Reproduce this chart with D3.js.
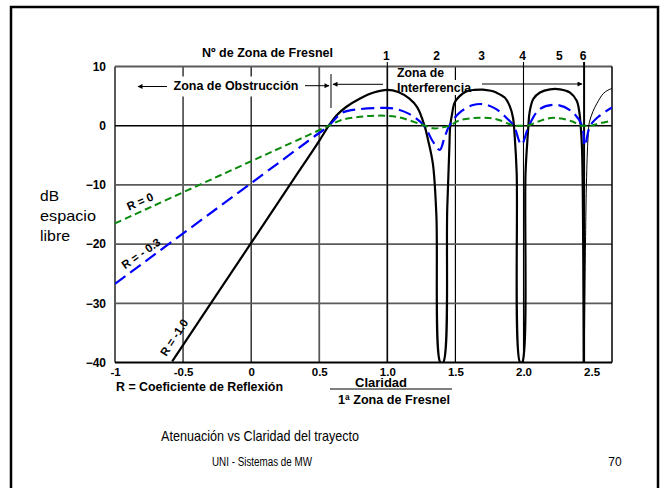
<!DOCTYPE html>
<html>
<head>
<meta charset="utf-8">
<script src="https://cdn.jsdelivr.net/npm/d3@7"></script>
<style>
  body { margin: 0; background: #fff; }
  svg text { font-family: "Liberation Sans", Arial, sans-serif; fill: #000; }
</style>
</head>
<body>
<svg width="666" height="488"></svg>
<script>
// Axis ticks
const xTicks = [-1, -0.5, 0, 0.5, 1, 1.5, 2, 2.5];
const xTickLabels = ["-1", "-0.5", "0", "0.5", "1.0", "1.5", "2.0", "2.5"];
const yTicks = [10, 0, -10, -20, -30, -40];

// Fresnel zone numbers and where they sit on the clearance axis
const zoneLabels = ["1", "2", "3", "4", "5", "6"];
const zonePos = [1.0, 1.37, 1.70, 2.0, 2.27, 2.445];

// R = 0 (green)
const r0 = [[-1, -16.5], [0, -6.0], [0.3, -2.85], [0.45, -1.28], [0.57, 0], [0.67, 1.0],
  [0.8, 1.5], [0.92, 1.7], [1.07, 1.5], [1.24, 0.3], [1.34, -0.45], [1.40, -0.3],
  [1.458, 0], [1.531, 0.9], [1.678, 1.35], [1.80, 1.1], [1.90, 0.25], [1.93, 0],
  [1.98, 0], [2.03, 0], [2.12, 0.8], [2.20, 1.3], [2.28, 1.2], [2.36, 0.7],
  [2.42, 0], [2.45, 0], [2.49, 0], [2.56, 0.4], [2.65, 0.85]];

// R = -0.3 (blue)
const r03 = [[-1, -26.7], [0, -9.7], [0.3, -4.6], [0.45, -2.05], [0.57, 0], [0.67, 2.2],
  [0.8, 2.8], [0.95, 3.0], [1.05, 2.9], [1.16, 2.0], [1.27, 0], [1.33, -2.5],
  [1.385, -4.1], [1.42, -2], [1.455, 0], [1.531, 2.2], [1.63, 3.5], [1.715, 3.6],
  [1.80, 2.8], [1.874, 1.35], [1.928, 0], [1.985, -3.2], [2.04, 0], [2.12, 2.8],
  [2.25, 3.5], [2.36, 2.3], [2.43, 0], [2.45, -3.4], [2.49, 0], [2.56, 1.7], [2.65, 3.1]];

// R = -1.0 (black), up to the third null
const r10 = [[-0.58, -39.8], [0, -19.8], [0.3, -9.45], [0.5, -2.55], [0.57, 0], [0.63, 1.8],
  [0.7, 3.2], [0.8, 4.6], [0.9, 5.6], [1.0, 6.05], [1.08, 5.7], [1.16, 4.6], [1.22, 3.1],
  [1.273, 0], [1.30, -2.5], [1.335, -6.5], [1.36, -15], [1.39, -40], [1.41, -40],
  [1.44, -14], [1.455, -4], [1.462, 0], [1.475, 1.9], [1.494, 3.9], [1.531, 5.0],
  [1.58, 5.8], [1.64, 6.05], [1.70, 6.1], [1.76, 5.9], [1.80, 5.6], [1.862, 4.75],
  [1.899, 3.3], [1.923, 1.35], [1.936, -2], [1.95, -8], [1.975, -40], [1.99, -40],
  [2.015, -8], [2.03, -2], [2.036, 0], [2.045, 2.3], [2.072, 4.5], [2.121, 5.6],
  [2.195, 6.15], [2.268, 6.15], [2.342, 5.6], [2.391, 4.2], [2.41, 2.3], [2.42, 0],
  [2.43, -4], [2.442, -40]];

// R = -1.0 after the sixth zone (thin)
const r10tail = [[2.446, -40], [2.462, -10], [2.474, -2], [2.483, 0.5], [2.51, 2.4],
  [2.54, 3.8], [2.585, 5.4], [2.62, 6.0], [2.65, 6.3]];

const svg = d3.select("svg");
const font = '"Liberation Sans", Arial, sans-serif';

const x = d3.scaleLinear().domain([-1, 2.65]).range([115, 612]);
const y = d3.scaleLinear().domain([-40, 10]).range([362.5, 66.5]);

// slide frame
svg.append("rect")
  .attr("x", 11).attr("y", 7).attr("width", 647).attr("height", 520)
  .attr("fill", "none").attr("stroke", "#000").attr("stroke-width", 2.5);

// grid
const darkX = [0, 1.5, 2];
svg.append("g").selectAll("line")
  .data([-0.5, 0, 0.5, 1, 1.5])
  .join("line")
  .attr("x1", d => x(d)).attr("x2", d => x(d))
  .attr("y1", y(10)).attr("y2", y(-40))
  .attr("stroke", d => darkX.includes(d) ? "#000" : "#5a5a5a")
  .attr("stroke-width", d => darkX.includes(d) ? 1.2 : 1.8);

svg.append("g").selectAll("line")
  .data([10, -10, -20, -30])
  .join("line")
  .attr("x1", x(-1)).attr("x2", x(2.65))
  .attr("y1", d => y(d)).attr("y2", d => y(d))
  .attr("stroke", "#5a5a5a").attr("stroke-width", 1.8);

// left border grey, others black
svg.append("line").attr("x1", x(-1)).attr("x2", x(-1)).attr("y1", y(10)).attr("y2", y(-40))
  .attr("stroke", "#5a5a5a").attr("stroke-width", 2);
svg.append("line").attr("x1", x(2.65)).attr("x2", x(2.65)).attr("y1", y(10)).attr("y2", y(-40))
  .attr("stroke", "#000").attr("stroke-width", 1.5);
svg.append("line").attr("x1", x(-1)).attr("x2", x(2.65)).attr("y1", y(-40)).attr("y2", y(-40))
  .attr("stroke", "#000").attr("stroke-width", 2);
svg.append("line").attr("x1", x(-1)).attr("x2", x(2.65)).attr("y1", y(0)).attr("y2", y(0))
  .attr("stroke", "#000").attr("stroke-width", 1.5);

// fresnel zone markers (zones 1, 4, 6)
svg.append("g").selectAll("line")
  .data([0, 3, 5])
  .join("line")
  .attr("x1", i => x(zonePos[i])).attr("x2", i => x(zonePos[i]))
  .attr("y1", 62).attr("y2", y(-40))
  .attr("stroke", "#000")
  .attr("stroke-width", i => i === 5 ? 2 : 1.1);

// white boxes behind the zone texts
svg.append("rect").attr("x", 170).attr("y", 76.5).attr("width", 132).attr("height", 20).attr("fill", "#fff");
svg.append("rect").attr("x", 395).attr("y", 80).attr("width", 78).attr("height", 15).attr("fill", "#fff");

// curves
svg.append("clipPath").attr("id", "plot")
  .append("rect").attr("x", x(-1)).attr("y", y(10))
  .attr("width", x(2.65) - x(-1)).attr("height", y(-40) - y(10));

const line = d3.line()
  .x(d => x(d[0])).y(d => y(d[1]))
  .curve(d3.curveCatmullRom.alpha(0.5));

const curves = svg.append("g").attr("clip-path", "url(#plot)");
curves.append("path").datum(r10).attr("d", line)
  .attr("fill", "none").attr("stroke", "#000").attr("stroke-width", 2.2);
curves.append("path").datum(r10tail).attr("d", line)
  .attr("fill", "none").attr("stroke", "#000").attr("stroke-width", 1);
curves.append("path").datum(r03).attr("d", line)
  .attr("fill", "none").attr("stroke", "#0000ff").attr("stroke-width", 2.2)
  .attr("stroke-dasharray", "13,6");
curves.append("path").datum(r0).attr("d", line)
  .attr("fill", "none").attr("stroke", "#0a8a0a").attr("stroke-width", 2)
  .attr("stroke-dasharray", "7,4");

// axes
const xAxis = d3.axisBottom(x).tickValues(xTicks)
  .tickFormat((d, i) => xTickLabels[i]).tickSize(0).tickPadding(5);
svg.append("g").attr("transform", `translate(0,${y(-40)})`)
  .call(xAxis)
  .call(g => g.select(".domain").remove())
  .attr("font-family", font).attr("font-size", 11.5).attr("font-weight", "bold");

const yAxis = d3.axisLeft(y).tickValues(yTicks).tickSize(0).tickPadding(9);
svg.append("g").attr("transform", `translate(${x(-1)},0)`)
  .call(yAxis)
  .call(g => g.select(".domain").remove())
  .attr("font-family", font).attr("font-size", 12).attr("font-weight", "bold");

svg.selectAll(".tick text").attr("fill", "#000");

// zone numbers
svg.append("text").attr("x", 267.5).attr("y", 56.5).attr("text-anchor", "middle")
  .attr("font-size", 12.5).attr("font-weight", "bold")
  .attr("textLength", 131).attr("lengthAdjust", "spacingAndGlyphs")
  .text("Nº de Zona de Fresnel");

svg.append("g").selectAll("text")
  .data(zoneLabels)
  .join("text")
  .attr("x", (d, i) => x(zonePos[i]) - 1)
  .attr("y", 59.5)
  .attr("text-anchor", "middle")
  .attr("font-size", 12).attr("font-weight", "bold")
  .text(d => d);

// arrows
const defs = svg.append("defs");
defs.append("marker").attr("id", "arr").attr("viewBox", "0 0 10 10")
  .attr("refX", 9).attr("refY", 5).attr("markerWidth", 7).attr("markerHeight", 5)
  .attr("orient", "auto-start-reverse").attr("markerUnits", "userSpaceOnUse")
  .append("path").attr("d", "M0,0 L10,5 L0,10 z").attr("fill", "#000");

const arrow = (x1, x2, yy) => svg.append("line")
  .attr("x1", x1).attr("x2", x2).attr("y1", yy).attr("y2", yy)
  .attr("stroke", "#000").attr("stroke-width", 1)
  .attr("marker-end", "url(#arr)");

arrow(167, 138, 86.5);
arrow(305, 329, 85.7);
arrow(383, 333, 84.3);
arrow(482, 582, 84);
svg.append("line").attr("x1", 331).attr("x2", 331).attr("y1", 74).attr("y2", 108)
  .attr("stroke", "#000").attr("stroke-width", 1);

svg.append("text").attr("x", 236).attr("y", 90).attr("text-anchor", "middle")
  .attr("font-size", 12.5).attr("font-weight", "bold")
  .attr("textLength", 125).attr("lengthAdjust", "spacingAndGlyphs")
  .text("Zona de Obstrucción");
svg.append("text").attr("x", 397).attr("y", 76.5)
  .attr("font-size", 12.5).attr("font-weight", "bold")
  .attr("textLength", 47).attr("lengthAdjust", "spacingAndGlyphs")
  .text("Zona de");
svg.append("text").attr("x", 397).attr("y", 91.5)
  .attr("font-size", 12.5).attr("font-weight", "bold")
  .attr("textLength", 74).attr("lengthAdjust", "spacingAndGlyphs")
  .text("Interferencia");

// y title
[["dB", 201, 19], ["espacio", 221, 56], ["libre", 241, 30]].forEach(([t, yy, w]) => {
  svg.append("text").attr("x", 40).attr("y", yy)
    .attr("font-size", 15)
    .attr("textLength", w).attr("lengthAdjust", "spacingAndGlyphs")
    .text(t);
});

// curve labels
[["R = 0", 140, 201.5, -24], ["R = - 0.3", 141, 253.5, -35], ["R = -1.0", 174, 337.5, -57]]
  .forEach(([t, cx, cy, a]) => {
    svg.append("text")
      .attr("transform", `translate(${cx},${cy}) rotate(${a})`)
      .attr("text-anchor", "middle").attr("dy", "0.35em")
      .attr("font-size", 11.5).attr("font-weight", "bold")
      .text(t);
  });

// bottom labels
svg.append("text").attr("x", 116).attr("y", 391)
  .attr("font-size", 12).attr("font-weight", "bold")
  .attr("textLength", 167).attr("lengthAdjust", "spacingAndGlyphs")
  .text("R = Coeficiente de Reflexión");
svg.append("text").attr("x", 381).attr("y", 387).attr("text-anchor", "middle")
  .attr("font-size", 12).attr("font-weight", "bold")
  .attr("textLength", 52).attr("lengthAdjust", "spacingAndGlyphs")
  .text("Claridad");
svg.append("line").attr("x1", 330).attr("x2", 452).attr("y1", 389).attr("y2", 389)
  .attr("stroke", "#000").attr("stroke-width", 1);
svg.append("text").attr("x", 394).attr("y", 403.5).attr("text-anchor", "middle")
  .attr("font-size", 12).attr("font-weight", "bold")
  .attr("textLength", 112).attr("lengthAdjust", "spacingAndGlyphs")
  .text("1ª Zona de Fresnel");

// slide text
svg.append("text").attr("x", 260).attr("y", 440.5).attr("text-anchor", "middle")
  .attr("font-size", 15)
  .attr("textLength", 198).attr("lengthAdjust", "spacingAndGlyphs")
  .text("Atenuación vs Claridad del trayecto");
svg.append("text").attr("x", 262).attr("y", 465.5).attr("text-anchor", "middle")
  .attr("font-size", 12)
  .attr("textLength", 100).attr("lengthAdjust", "spacingAndGlyphs")
  .text("UNI - Sistemas de MW");
svg.append("text").attr("x", 615).attr("y", 466).attr("text-anchor", "middle")
  .attr("font-size", 12)
  .text("70");
</script>
</body>
</html>
